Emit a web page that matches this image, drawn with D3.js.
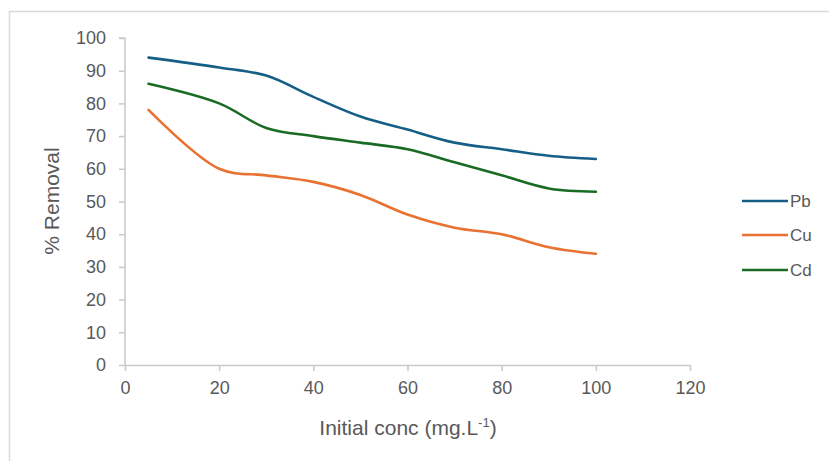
<!DOCTYPE html>
<html><head><meta charset="utf-8">
<script src="https://cdn.jsdelivr.net/npm/d3@7"></script>
<style>body{margin:0;background:#fff}svg{display:block}</style>
</head><body>
<script>
const conc = [5, 20, 30, 40, 50, 60, 70, 80, 90, 100];
const pb = [94, 91, 88.5, 82, 76, 72, 68, 66, 64, 63];
const cu = [78, 60, 58, 56, 52, 46, 42, 40, 36, 34];
const cd = [86, 80, 72.5, 70, 68, 66, 62, 58, 54, 53];
const seriesNames = ["Pb", "Cu", "Cd"];
const seriesColors = ["#155f86", "#e97132", "#196b24"];
const xTicks = [0, 20, 40, 60, 80, 100, 120];
const yTicks = [0, 10, 20, 30, 40, 50, 60, 70, 80, 90, 100];

const W = 829, H = 461;
const svg = d3.select("body").append("svg").attr("width", W).attr("height", H);
const font = "'Liberation Sans', Arial, sans-serif";
const textCol = "#595959", axisCol = "#c9c9c9";

svg.append("path").attr("d", "M9.5,461 L9.5,11.5 L829,11.5").attr("fill", "none").attr("stroke", "#d9d9d9").attr("stroke-width", 1.5);

const x = d3.scaleLinear().domain([0, 120]).range([125, 690]);
const y = d3.scaleLinear().domain([0, 100]).range([365, 38]);

const yAxis = svg.append("g").attr("transform", `translate(${x(0)},0)`)
  .call(d3.axisLeft(y).tickValues(yTicks).tickSize(6).tickSizeOuter(0).tickPadding(13));
const xAxis = svg.append("g").attr("transform", `translate(0,${y(0)})`)
  .call(d3.axisBottom(x).tickValues(xTicks).tickSize(6).tickSizeOuter(0).tickPadding(10));
[xAxis, yAxis].forEach(g => {
  g.select(".domain").attr("stroke", axisCol).attr("stroke-width", 1.5);
  g.selectAll(".tick line").attr("stroke", axisCol).attr("stroke-width", 1.5);
  g.selectAll(".tick text").attr("fill", textCol).attr("font-size", 18).attr("font-family", font);
});
yAxis.select(".domain").attr("d", `M0,${y(0)}V${y(100)}H-6`);

const data = [pb, cu, cd];
const line = d3.line().x((d, i) => x(conc[i])).y(d => y(d)).curve(d3.curveCatmullRom.alpha(0.5));
data.forEach((vals, k) => {
  svg.append("path").datum(vals).attr("d", line).attr("fill", "none")
    .attr("stroke", seriesColors[k]).attr("stroke-width", 2.6).attr("stroke-linecap", "round");
});

const legY = [201, 235, 270];
seriesNames.forEach((n, k) => {
  svg.append("line").attr("x1", 742).attr("x2", 788).attr("y1", legY[k]).attr("y2", legY[k])
    .attr("stroke", seriesColors[k]).attr("stroke-width", 2.6);
  svg.append("text").attr("x", 790).attr("y", legY[k]).attr("dy", "0.36em")
    .attr("fill", textCol).attr("font-size", 17).attr("font-family", font).text(n);
});

svg.append("text").attr("x", 408).attr("y", 435).attr("text-anchor", "middle")
  .attr("fill", textCol).attr("font-size", 21).attr("font-family", font)
  .html("Initial conc (mg.L<tspan dy='-8' font-size='13'>-1</tspan><tspan dy='8'>)</tspan>");
svg.append("text").attr("transform", "translate(59,201) rotate(-90)").attr("text-anchor", "middle")
  .attr("fill", textCol).attr("font-size", 21).attr("font-family", font).text("% Removal");
</script>
</body></html>
